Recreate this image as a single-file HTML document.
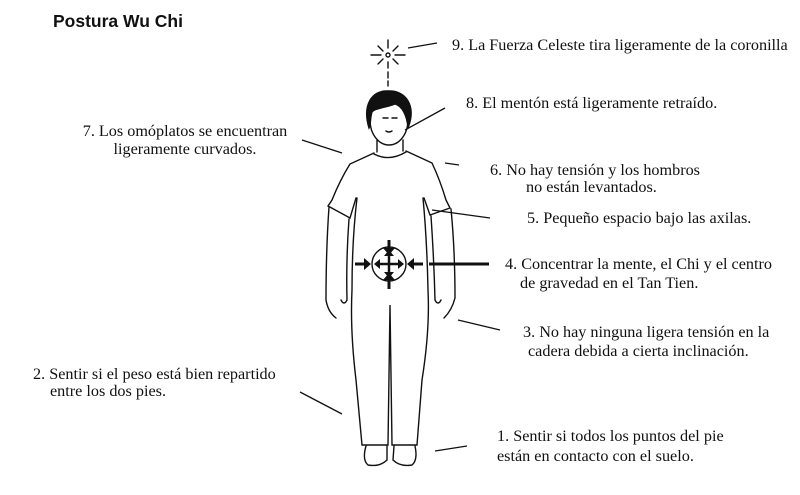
<!DOCTYPE html>
<html><head><meta charset="utf-8"><style>
html,body{margin:0;padding:0;background:#fff;}
svg{display:block}
.t{font-family:"Liberation Serif",serif;font-size:16.2px;fill:#111}
</style></head><body>
<svg width="800" height="495" viewBox="0 0 800 495" xmlns="http://www.w3.org/2000/svg">
<text x="53" y="27" font-family="Liberation Sans,sans-serif" font-weight="bold" font-size="17.5" fill="#111">Postura Wu Chi</text>

<g stroke="#111" stroke-width="1.4" fill="none" stroke-linecap="round">
<circle cx="388" cy="55" r="2"/>
<path d="M388 40v8M388 62v6M388 72v6M388 81v5M371 55h10M395 55h10M378 46l5 5M398 46l-5 5M378 64l5-5M398 64l-5-5"/>
<ellipse cx="389" cy="120" rx="19" ry="25" fill="#fff"/>
<path d="M369 128 C362 105 372 90 388 91 C405 90 417 105 408 128 C407 115 402 106 395 104 C385 108 375 108 372 112 C370 118 371 124 369 128Z" fill="#111"/>
<path d="M383 118h5M392 118h5M386 131 q3 2 6 0"/>
<path d="M377 140 v12 M403 140 v11"/>
<path d="M374 154 q15 8 32 -2"/>
<path d="M374 153 L350 164 Q340 180 332 200 L328 206 L350 218 L356 198"/>
<path d="M406 151 L432 163 Q440 180 446 200 L450 208 L430 215 L424 198"/>
<path d="M329 207 Q326 250 326 300 Q328 312 336 318 M349 219 Q346 260 347 300 Q344 306 341 300"/>
<path d="M451 209 Q455 250 455 298 Q452 310 444 318 M431 216 Q434 260 435 300 Q438 306 441 300"/>
<path d="M357 198 Q352 240 352 290 Q350 330 356 380 L362 445 L388 445 L390 305 L392 445 L417 445 L422 380 Q430 330 428 290 Q427 240 423 198"/>
<path d="M366 446 Q362 460 368 465 Q380 467 387 460 L387 446"/>
<path d="M394 446 L393 460 Q400 467 412 465 Q418 460 415 446"/>
<circle cx="389" cy="264" r="17"/>
</g>
<g fill="#111" stroke="#111" stroke-width="3">
<path d="M389 240v9M389 279v10M355 264h11M412 264h11M489 264h-60" />
<path d="M378 264h22M389 253v22" stroke-width="2.5"/>
</g>
<g fill="#111">
<path d="M383 248l6 7 6-7z M383 280l6-7 6 7z M364 258l7 6-7 6z M414 258l-7 6 7 6z"/>
<path d="M384 256l5-6 5 6z M384 272l5 6 5-6z M380 259l-6 5 6 5z M398 259l6 5-6 5z"/>
</g>
<g stroke="#111" stroke-width="1.3">
<line x1="408" y1="48" x2="437" y2="43"/>
<line x1="405" y1="130" x2="445" y2="108"/>
<line x1="302" y1="140" x2="342" y2="153"/>
<line x1="445" y1="163" x2="459" y2="165"/>
<line x1="432" y1="210" x2="490" y2="218"/>
<line x1="458" y1="320" x2="500" y2="330"/>
<line x1="300" y1="392" x2="342" y2="414"/>
<line x1="435" y1="451" x2="467" y2="446"/>
</g>
<g class="t">
<text x="452" y="50">9. La Fuerza Celeste tira ligeramente de la coronilla</text>
<text x="466" y="108">8. El mentón está ligeramente retraído.</text>
<text x="185" y="136" text-anchor="middle">7. Los omóplatos se encuentran</text>
<text x="185" y="154" text-anchor="middle">ligeramente curvados.</text>
<text x="490" y="175">6. No hay tensión y los hombros</text>
<text x="526" y="192">no están levantados.</text>
<text x="527" y="223">5. Pequeño espacio bajo las axilas.</text>
<text x="505" y="269">4. Concentrar la mente, el Chi y el centro</text>
<text x="520" y="288">de gravedad en el Tan Tien.</text>
<text x="523" y="337">3. No hay ninguna ligera tensión en la</text>
<text x="528" y="356">cadera debida a cierta inclinación.</text>
<text x="33" y="379">2. Sentir si el peso está bien repartido</text>
<text x="50" y="396">entre los dos pies.</text>
<text x="497" y="441">1. Sentir si todos los puntos del pie</text>
<text x="497" y="461">están en contacto con el suelo.</text>
</g>
</svg>
</body></html>
